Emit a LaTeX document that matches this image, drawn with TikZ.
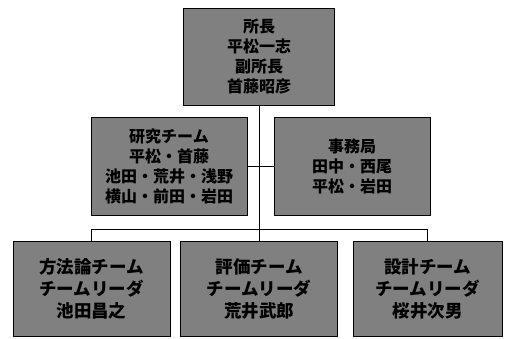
\documentclass[tikz,border=0pt]{standalone}
\usepackage{fontspec}
\setmainfont{Noto Sans CJK JP}
\begin{document}
\begin{tikzpicture}[x=1pt,y=-1pt,
  orgbox/.style={draw=black, line width=1pt, fill=black!50, text=black,
    align=center, inner sep=0pt, font=\fontsize{16}{20}\selectfont\bfseries},
  lowbox/.style={orgbox, font=\fontsize{17.5}{22}\selectfont\bfseries},
  link/.style={draw=black, line width=0.9pt}]
\useasboundingbox (0,0) rectangle (506,338);
\node[orgbox, minimum width=151pt, minimum height=97pt] (top) at (259,56.5)
  {所長\\平松一志\\副所長\\首藤昭彦};
\node[orgbox, minimum width=156pt, minimum height=98pt] (ml) at (169,166)
  {研究チーム\\平松・首藤\\池田・荒井・浅野\\横山・前田・岩田};
\node[orgbox, minimum width=156pt, minimum height=98pt] (mr) at (352,166)
  {事務局\\田中・西尾\\平松・岩田};
\node[lowbox, minimum width=157pt, minimum height=95pt] (bl) at (91.5,288.5)
  {方法論チーム\\チームリーダ\\池田昌之};
\node[lowbox, minimum width=157pt, minimum height=95pt] (bm) at (259,288.5)
  {評価チーム\\チームリーダ\\荒井武郎};
\node[lowbox, minimum width=149pt, minimum height=95pt] (br) at (427.5,288.5)
  {設計チーム\\チームリーダ\\桜井次男};
\coordinate (bus) at (0,229);
\draw[link] (top.south) -- (bm.north);
\draw[link] (ml.east) -- (mr.west);
\draw[link] (bl.north) |- (bus -| br.north) -- (br.north);
\end{tikzpicture}
\end{document}
